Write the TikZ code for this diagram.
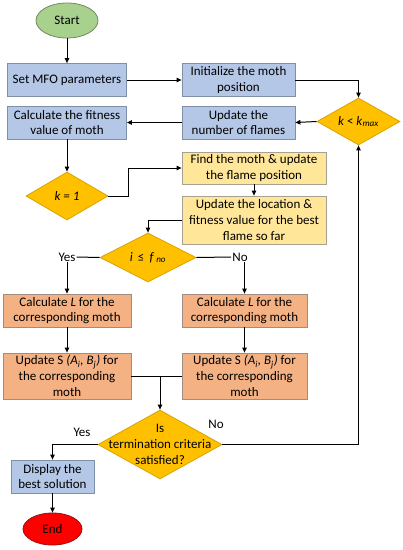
\documentclass[tikz,border=0pt]{standalone}
\usepackage{fontspec}
\setmainfont{Carlito}
\usetikzlibrary{shapes.geometric,arrows.meta}
\definecolor{bluef}{HTML}{B4C7E7}
\definecolor{blued}{HTML}{7F8FA6}
\definecolor{orangef}{HTML}{F4B183}
\definecolor{oranged}{HTML}{A08C80}
\definecolor{yellowf}{HTML}{FFE699}
\definecolor{yellowd}{HTML}{A8A090}
\definecolor{diaf}{HTML}{FFC000}
\definecolor{diad}{HTML}{D9A300}
\definecolor{greenf}{HTML}{A9D18E}
\definecolor{greend}{HTML}{6F8A5E}
\definecolor{redf}{HTML}{FF0000}
\definecolor{redd}{HTML}{9A1010}
\begin{document}
\begin{tikzpicture}[x=1pt,y=-1pt,
  font=\fontsize{13}{15.8}\selectfont,
  box/.style={draw, inner sep=1pt, align=center, line width=0.8pt},
  bluebox/.style={box, fill=bluef, draw=blued},
  orangebox/.style={box, fill=orangef, draw=oranged},
  yellowbox/.style={box, fill=yellowf, draw=yellowd},
  dia/.style={diamond, draw=diad, fill=diaf, inner sep=0pt, line width=0.8pt},
  dtext/.style={inner sep=0pt, align=center},
  term/.style={ellipse, inner sep=0pt, line width=0.8pt},
  lbl/.style={inner sep=1pt},
  arr/.style={-{Triangle[length=5pt,width=4.5pt]}, line width=1pt},
  ln/.style={line width=1pt}]
\useasboundingbox (0,0) rectangle (403,550);

\node[term, draw=greend, fill=greenf, minimum width=62pt, minimum height=35pt] (start) at (67,20.5) {Start};
\node[bluebox, minimum width=119pt, minimum height=33pt] (setmfo) at (67,80) {Set MFO parameters};
\node[bluebox, minimum width=113pt, minimum height=33pt] (init) at (238.5,80) {Initialize the moth\\position};
\node[dia, minimum width=83pt, minimum height=47pt] (kmax) at (358.5,121.5) {};
\node[dtext] (kmaxt) at (kmax.center) {\textit{k} < \textit{k}\textsubscript{\textit{max}}};
\node[bluebox, minimum width=113pt, minimum height=33pt] (flames) at (238.5,122.5) {Update the\\number of flames};
\node[bluebox, minimum width=119pt, minimum height=33pt] (fit) at (67,122.5) {Calculate the fitness\\value of moth};
\node[dia, minimum width=82pt, minimum height=48pt] (k1) at (67,196) {};
\node[dtext] (k1t) at (k1.center) {\textit{k = 1}};
\node[yellowbox, minimum width=144pt, minimum height=32pt] (find) at (254,168) {Find the moth \& update\\the flame position};
\node[yellowbox, minimum width=144pt, minimum height=48pt] (loc) at (254,220) {Update the location \&\\fitness value for the best\\flame so far};
\node[dia, minimum width=96pt, minimum height=49pt] (ifno) at (148,257.5) {};
\node[dtext] (ifnot) at (ifno.center) {\textit{i}\, ≤\, \textit{f}\,\textsubscript{\textit{no}}};
\node[lbl] (yes1) at (67,257) {Yes};
\node[lbl] (no1) at (240,257) {No};
\node[orangebox, minimum width=128pt, minimum height=33pt] (lcalc) at (67,310.5) {Calculate \textit{L} for the\\corresponding moth};
\node[orangebox, minimum width=125pt, minimum height=33pt] (rcalc) at (244.5,310.5) {Calculate \textit{L} for the\\corresponding moth};
\node[orangebox, minimum width=128pt, minimum height=46pt] (lupd) at (67,376) {Update S \textit{(A\textsubscript{i}, B\textsubscript{j})} for\\the corresponding\\moth};
\node[orangebox, minimum width=125pt, minimum height=46pt] (rupd) at (244.5,376) {Update S \textit{(A\textsubscript{i}, B\textsubscript{j})} for\\the corresponding\\moth};
\coordinate (m) at (160,376);
\node[dia, minimum width=124pt, minimum height=69pt] (term) at (160,444.5) {};
\node[dtext] (termt) at (term.center) {Is\\termination criteria\\satisfied?};
\node[lbl] (yes2) at (82,432) {Yes};
\node[lbl] (no2) at (216,424) {No};
\node[bluebox, minimum width=83pt, minimum height=33pt] (disp) at (52.5,476.5) {Display the\\best solution};
\node[term, draw=redd, fill=redf, minimum width=59pt, minimum height=32pt] (end) at (52.5,529) {End};

\draw[arr] (start.south) -- (setmfo.north);
\draw[arr] (setmfo.east) -- (init.west);
\draw[arr] (init.east) -| (kmax.north);
\draw[arr] (kmax.west) -- (flames.east);
\draw[arr] (flames.west) -- (fit.east);
\draw[arr] (fit.south) -- (k1.north);
\draw[arr] (k1.east) -- ++(20,0) |- (find.west);
\draw[arr] (find.south) -- (loc.north);
\draw[arr] (loc.west) -| (ifno.north);
\draw[ln] (ifno.west) -- (yes1.east);
\draw[arr] (yes1.south) -- (lcalc.north);
\draw[ln] (ifno.east) -- (no1.west);
\draw[arr] (no1.south -| rcalc.north) -- (rcalc.north);
\draw[arr] (lcalc.south) -- (lupd.north);
\draw[arr] (rcalc.south) -- (rupd.north);
\draw[ln] (lupd.east) -- (rupd.west);
\draw[arr] (m) -- (term.north);
\draw[arr] (term.west) -| (disp.north);
\draw[arr] (term.east) -| (kmax.south);
\draw[arr] (disp.south) -- (end.north);
\end{tikzpicture}
\end{document}
